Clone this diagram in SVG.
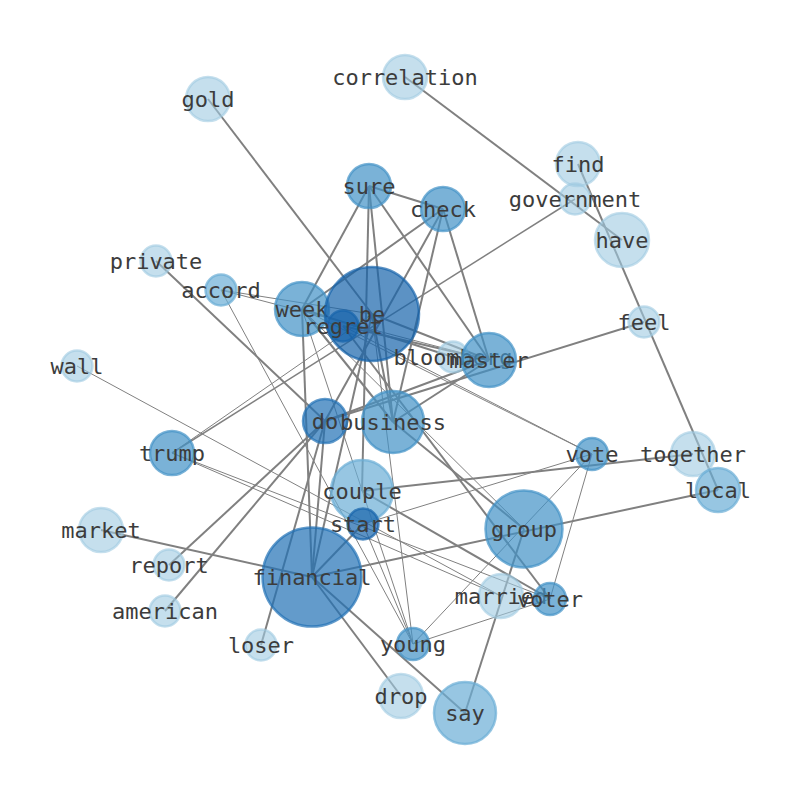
<svg xmlns="http://www.w3.org/2000/svg" width="794" height="790" viewBox="0 0 794 790">
<style>
.e{stroke:#808080;stroke-width:2;fill:none}
.t{stroke:#808080;stroke-width:1;fill:none}
.n1 circle{fill:#9ecae1;fill-opacity:0.6;stroke:#9ecae1;stroke-opacity:0.6;stroke-width:2.5}
.n2 circle{fill:#6baed6;fill-opacity:0.7;stroke:#6baed6;stroke-opacity:0.7;stroke-width:2.5}
.n3 circle{fill:#4292c6;fill-opacity:0.7;stroke:#4292c6;stroke-opacity:0.7;stroke-width:2.5}
.n4 circle{fill:#2171b5;fill-opacity:0.7;stroke:#2171b5;stroke-opacity:0.7;stroke-width:2.5}
.n5 circle{fill:#1764ab;fill-opacity:0.7;stroke:#1764ab;stroke-opacity:0.7;stroke-width:2.5}
text{font-family:"DejaVu Sans Mono","Liberation Mono",monospace;font-size:22px;fill:#3c3c3c;text-anchor:middle;dominant-baseline:central}
</style>
<rect width="794" height="790" fill="#ffffff"/>
<g id="edges">
<line class="e" x1="405" y1="77" x2="622" y2="240"/>
<line class="e" x1="578" y1="164" x2="718" y2="490"/>
<line class="e" x1="208" y1="99" x2="372" y2="314"/>
<line class="e" x1="369" y1="186" x2="443" y2="209"/>
<line class="e" x1="369" y1="186" x2="302" y2="309"/>
<line class="e" x1="369" y1="186" x2="393" y2="422"/>
<line class="e" x1="369" y1="186" x2="362" y2="491"/>
<line class="e" x1="369" y1="186" x2="489" y2="360"/>
<line class="e" x1="443" y1="209" x2="302" y2="309"/>
<line class="e" x1="443" y1="209" x2="393" y2="422"/>
<line class="e" x1="443" y1="209" x2="489" y2="360"/>
<line class="e" x1="443" y1="209" x2="325" y2="421"/>
<line class="e" x1="156" y1="261" x2="325" y2="421"/>
<line class="e" x1="325" y1="421" x2="489" y2="360"/>
<line class="e" x1="393" y1="422" x2="489" y2="360"/>
<line class="e" x1="325" y1="421" x2="169" y2="565"/>
<line class="e" x1="325" y1="421" x2="165" y2="611"/>
<line class="e" x1="325" y1="421" x2="261" y2="645"/>
<line class="e" x1="325" y1="421" x2="312" y2="577"/>
<line class="e" x1="302" y1="309" x2="312" y2="577"/>
<line class="e" x1="372" y1="314" x2="312" y2="577"/>
<line class="e" x1="363" y1="524" x2="312" y2="577"/>
<line class="e" x1="372" y1="314" x2="393" y2="422"/>
<line class="e" x1="302" y1="309" x2="393" y2="422"/>
<line class="e" x1="343" y1="326" x2="550" y2="599"/>
<line class="e" x1="644" y1="322" x2="325" y2="421"/>
<line class="e" x1="693" y1="454" x2="362" y2="491"/>
<line class="e" x1="718" y1="490" x2="312" y2="577"/>
<line class="e" x1="101" y1="530" x2="312" y2="577"/>
<line class="e" x1="312" y1="577" x2="401" y2="696"/>
<line class="e" x1="312" y1="577" x2="465" y2="713"/>
<line class="e" x1="524" y1="529" x2="465" y2="713"/>
<line class="e" x1="393" y1="422" x2="524" y2="529"/>
<line class="e" x1="362" y1="491" x2="550" y2="599"/>
<line class="e" x1="372" y1="314" x2="489" y2="360"/>
<line class="e" x1="343" y1="326" x2="489" y2="360"/>
<line class="e" x1="302" y1="309" x2="453" y2="357"/>
<line class="e" style="stroke-width:1.5" x1="575" y1="199" x2="172" y2="453"/>
<line class="t" x1="221" y1="290" x2="372" y2="314"/>
<line class="t" x1="221" y1="290" x2="489" y2="360"/>
<line class="t" x1="221" y1="290" x2="413" y2="644"/>
<line class="t" x1="77" y1="366" x2="501" y2="596"/>
<line class="t" x1="172" y1="453" x2="550" y2="599"/>
<line class="t" x1="172" y1="453" x2="501" y2="596"/>
<line class="t" x1="172" y1="453" x2="372" y2="314"/>
<line class="t" x1="363" y1="524" x2="592" y2="454"/>
<line class="t" x1="592" y1="454" x2="413" y2="644"/>
<line class="t" x1="592" y1="454" x2="550" y2="599"/>
<line class="t" x1="413" y1="644" x2="550" y2="599"/>
<line class="t" x1="343" y1="326" x2="592" y2="454"/>
<line class="t" x1="302" y1="309" x2="592" y2="454"/>
<line class="t" x1="302" y1="309" x2="524" y2="529"/>
<line class="t" x1="413" y1="644" x2="372" y2="314"/>
<line class="t" x1="413" y1="644" x2="302" y2="309"/>
<line class="t" x1="363" y1="524" x2="413" y2="644"/>
</g>
<g id="node-correlation" class="n1"><circle cx="405" cy="77" r="22"/><text x="405" y="77">correlation</text></g>
<g id="node-gold" class="n1"><circle cx="208" cy="99" r="22"/><text x="208" y="99">gold</text></g>
<g id="node-find" class="n1"><circle cx="578" cy="164" r="22"/><text x="578" y="164">find</text></g>
<g id="node-government" class="n1"><circle cx="575" cy="199" r="15.5"/><text x="575" y="199">government</text></g>
<g id="node-have" class="n1"><circle cx="622" cy="240" r="27"/><text x="622" y="240">have</text></g>
<g id="node-sure" class="n3"><circle cx="369" cy="186" r="22"/><text x="369" y="186">sure</text></g>
<g id="node-check" class="n3"><circle cx="443" cy="209" r="22"/><text x="443" y="209">check</text></g>
<g id="node-private" class="n1"><circle cx="156" cy="261" r="15.5"/><text x="156" y="261">private</text></g>
<g id="node-accord" class="n2"><circle cx="221" cy="290" r="15.5"/><text x="221" y="290">accord</text></g>
<g id="node-week" class="n3"><circle cx="302" cy="309" r="27"/><text x="302" y="309">week</text></g>
<g id="node-be" class="n5"><circle cx="372" cy="314" r="47"/><text x="372" y="314">be</text></g>
<g id="node-regret" class="n5"><circle cx="343" cy="326" r="15.5"/><text x="343" y="326">regret</text></g>
<g id="node-feel" class="n1"><circle cx="644" cy="322" r="15.5"/><text x="644" y="322">feel</text></g>
<g id="node-bloomberg" class="n1"><circle cx="453" cy="357" r="15.5"/><text x="453" y="357">bloomberg</text></g>
<g id="node-master" class="n3"><circle cx="489" cy="360" r="27"/><text x="489" y="360">master</text></g>
<g id="node-wall" class="n1"><circle cx="77" cy="366" r="15.5"/><text x="77" y="366">wall</text></g>
<g id="node-do" class="n4"><circle cx="325" cy="421" r="22"/><text x="325" y="421">do</text></g>
<g id="node-business" class="n3"><circle cx="393" cy="422" r="31"/><text x="393" y="422">business</text></g>
<g id="node-trump" class="n3"><circle cx="172" cy="453" r="22"/><text x="172" y="453">trump</text></g>
<g id="node-vote" class="n3"><circle cx="592" cy="454" r="16"/><text x="592" y="454">vote</text></g>
<g id="node-together" class="n1"><circle cx="693" cy="454" r="22"/><text x="693" y="454">together</text></g>
<g id="node-local" class="n2"><circle cx="718" cy="490" r="22"/><text x="718" y="490">local</text></g>
<g id="node-couple" class="n2"><circle cx="362" cy="491" r="31"/><text x="362" y="491">couple</text></g>
<g id="node-start" class="n5"><circle cx="363" cy="524" r="15.5"/><text x="363" y="524">start</text></g>
<g id="node-group" class="n3"><circle cx="524" cy="529" r="38.5"/><text x="524" y="529">group</text></g>
<g id="node-market" class="n1"><circle cx="101" cy="530" r="22"/><text x="101" y="530">market</text></g>
<g id="node-report" class="n1"><circle cx="169" cy="565" r="15.5"/><text x="169" y="565">report</text></g>
<g id="node-financial" class="n4"><circle cx="312" cy="577" r="49.5"/><text x="312" y="577">financial</text></g>
<g id="node-married" class="n1"><circle cx="501" cy="596" r="22"/><text x="501" y="596">married</text></g>
<g id="node-voter" class="n3"><circle cx="550" cy="599" r="16"/><text x="550" y="599">voter</text></g>
<g id="node-american" class="n1"><circle cx="165" cy="611" r="15.5"/><text x="165" y="611">american</text></g>
<g id="node-loser" class="n1"><circle cx="261" cy="645" r="15.5"/><text x="261" y="645">loser</text></g>
<g id="node-young" class="n3"><circle cx="413" cy="644" r="16"/><text x="413" y="644">young</text></g>
<g id="node-drop" class="n1"><circle cx="401" cy="696" r="22"/><text x="401" y="696">drop</text></g>
<g id="node-say" class="n2"><circle cx="465" cy="713" r="31"/><text x="465" y="713">say</text></g>
</svg>
